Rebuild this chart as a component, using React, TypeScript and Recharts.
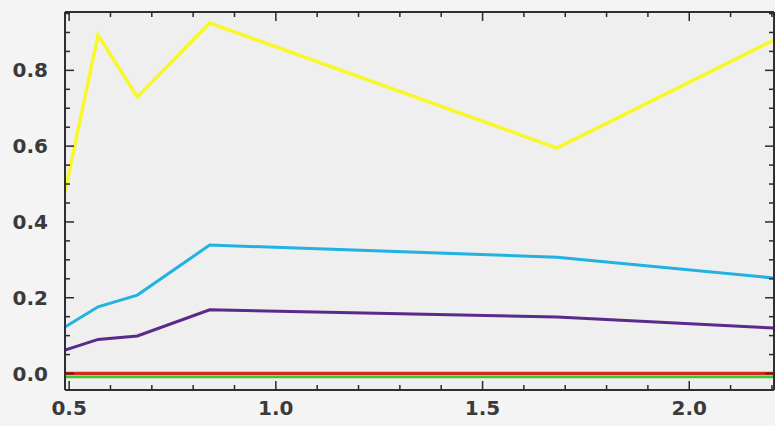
import React from 'react';
import { LineChart, Line, XAxis, YAxis, CartesianGrid } from 'recharts';

const xValues = [0.49, 0.57, 0.665, 0.84, 1.68, 2.205];
const yellowSeries = [0.48, 0.893, 0.73, 0.925, 0.595, 0.88];
const blueSeries = [0.123, 0.176, 0.207, 0.339, 0.307, 0.252];
const purpleSeries = [0.062, 0.09, 0.099, 0.168, 0.149, 0.12];
const redSeries = [0.0, 0.0, 0.0, 0.0, 0.0, 0.0];
const greenSeries = [-0.009, -0.009, -0.009, -0.009, -0.009, -0.009];

const xTicks = [0.5, 0.6, 0.7, 0.8, 0.9, 1.0, 1.1, 1.2, 1.3, 1.4, 1.5, 1.6, 1.7, 1.8, 1.9, 2.0, 2.1, 2.2];
const xMajor = [0.5, 1.0, 1.5, 2.0];
const yTicks = [0.0, 0.05, 0.1, 0.15, 0.2, 0.25, 0.3, 0.35, 0.4, 0.45, 0.5, 0.55, 0.6, 0.65, 0.7, 0.75, 0.8, 0.85, 0.9, 0.95];
const yMajor = [0.0, 0.2, 0.4, 0.6, 0.8];

const data = xValues.map((x, i) => ({
  x,
  yellow: yellowSeries[i],
  blue: blueSeries[i],
  purple: purpleSeries[i],
  red: redSeries[i],
  green: greenSeries[i],
}));

const X_DOMAIN: [number, number] = [0.49, 2.205];
const Y_DOMAIN: [number, number] = [-0.0435, 0.954];

const TICK_COLOR = '#2a2a2a';
const FRAME_COLOR = '#2e2e38';
const LABEL_COLOR = '#3a3a3a';
const FONT = '"DejaVu Sans", sans-serif';

const isMajor = (v: number, majors: number[]) => majors.some((m) => Math.abs(m - v) < 1e-6);

const BottomTick = (props: any) => {
  const { x, y, payload } = props;
  const major = isMajor(payload.value, xMajor);
  const len = major ? 9 : 5;
  return (
    <g>
      <line x1={x} y1={y} x2={x} y2={y - len} stroke={TICK_COLOR} strokeWidth={1.5} />
      {major && (
        <text x={x} y={y + 25} textAnchor="middle" fontFamily={FONT} fontWeight="bold" fontSize={20} fill={LABEL_COLOR}>
          {payload.value.toFixed(1)}
        </text>
      )}
    </g>
  );
};

const TopTick = (props: any) => {
  const { x, y, payload } = props;
  const major = isMajor(payload.value, xMajor);
  const len = major ? 9 : 5;
  return <line x1={x} y1={y} x2={x} y2={y + len} stroke={TICK_COLOR} strokeWidth={1.5} />;
};

const LeftTick = (props: any) => {
  const { x, y, payload } = props;
  const major = isMajor(payload.value, yMajor);
  const len = major ? 9 : 5;
  return (
    <g>
      <line x1={x} y1={y} x2={x + len} y2={y} stroke={TICK_COLOR} strokeWidth={1.5} />
      {major && (
        <text x={x - 17} y={y + 7} textAnchor="end" fontFamily={FONT} fontWeight="bold" fontSize={20} fill={LABEL_COLOR}>
          {payload.value.toFixed(1)}
        </text>
      )}
    </g>
  );
};

const RightTick = (props: any) => {
  const { x, y, payload } = props;
  const major = isMajor(payload.value, yMajor);
  const len = major ? 9 : 5;
  return <line x1={x} y1={y} x2={x - len} y2={y} stroke={TICK_COLOR} strokeWidth={1.5} />;
};

export default function App() {
  return (
    <div style={{ position: 'absolute', left: 0, top: 0, width: 775, height: 426, background: '#f4f4f4' }}>
      <LineChart width={775} height={426} data={data} margin={{ top: 11, right: 0, bottom: 0, left: 0 }}>
        <CartesianGrid horizontal={false} vertical={false} fill="#efefef" />
        <XAxis
          xAxisId="bottom"
          dataKey="x"
          type="number"
          orientation="bottom"
          domain={X_DOMAIN}
          allowDataOverflow
          ticks={xTicks}
          interval={0}
          height={36}
          tickSize={0}
          tickMargin={0}
          tickLine={false}
          axisLine={{ stroke: FRAME_COLOR, strokeWidth: 2 }}
          tick={<BottomTick />}
        />
        <XAxis
          xAxisId="top"
          dataKey="x"
          type="number"
          orientation="top"
          domain={X_DOMAIN}
          allowDataOverflow
          ticks={xTicks}
          interval={0}
          height={1}
          tickSize={0}
          tickMargin={0}
          tickLine={false}
          axisLine={{ stroke: FRAME_COLOR, strokeWidth: 2 }}
          tick={<TopTick />}
        />
        <YAxis
          yAxisId="left"
          type="number"
          orientation="left"
          domain={Y_DOMAIN}
          allowDataOverflow
          ticks={yTicks}
          interval={0}
          width={65}
          tickSize={0}
          tickMargin={0}
          tickLine={false}
          axisLine={{ stroke: FRAME_COLOR, strokeWidth: 2 }}
          tick={<LeftTick />}
        />
        <YAxis
          yAxisId="right"
          type="number"
          orientation="right"
          domain={Y_DOMAIN}
          allowDataOverflow
          ticks={yTicks}
          interval={0}
          width={1}
          tickSize={0}
          tickMargin={0}
          tickLine={false}
          axisLine={{ stroke: FRAME_COLOR, strokeWidth: 2 }}
          tick={<RightTick />}
        />
        <Line xAxisId="bottom" yAxisId="left" type="linear" dataKey="yellow" stroke="#f7f72a" strokeWidth={3.5} dot={false} isAnimationActive={false} />
        <Line xAxisId="bottom" yAxisId="left" type="linear" dataKey="blue" stroke="#22b2e2" strokeWidth={3} dot={false} isAnimationActive={false} />
        <Line xAxisId="bottom" yAxisId="left" type="linear" dataKey="purple" stroke="#5a2a8a" strokeWidth={3} dot={false} isAnimationActive={false} />
        <Line xAxisId="bottom" yAxisId="left" type="linear" dataKey="green" stroke="#33cc33" strokeWidth={2.5} dot={false} isAnimationActive={false} />
        <Line xAxisId="bottom" yAxisId="left" type="linear" dataKey="red" stroke="#d42a1e" strokeWidth={3.5} dot={false} isAnimationActive={false} />
      </LineChart>
    </div>
  );
}
